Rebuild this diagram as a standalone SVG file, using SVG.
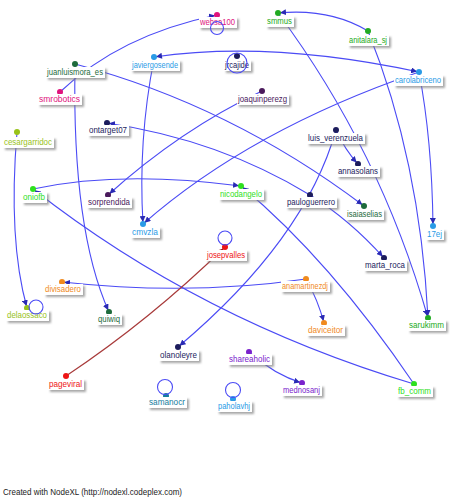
<svg xmlns="http://www.w3.org/2000/svg" width="450" height="501" viewBox="0 0 450 501">
<defs>
<style>
.e{fill:none;stroke:#4b4bf5;stroke-width:1.1}
.er{fill:none;stroke:#a83a3a;stroke-width:1.1}
.a{marker-end:url(#ar)}
.s{marker-start:url(#as)}
.ar{marker-end:url(#arr)}
.lb{fill:#fff;filter:url(#sh)}
text{font-family:"Liberation Sans",Arial,sans-serif;font-size:9.5px;text-anchor:middle}
.foot{font-size:9px;text-anchor:start;fill:#222}
.pink{fill:#e0147c}.grn{fill:#22aa22}.lgrn{fill:#2ee01e}.blue{fill:#2a9be6}.teal{fill:#157d9e}
.navy{fill:#1c1c5c}.purp{fill:#4a1a5c}.dgrn{fill:#1e6b3c}.yg{fill:#98c21a}.org{fill:#f08a1e}
.red{fill:#ee1414}.vio{fill:#7a22cc}
</style>
<filter id="sh" x="-20%" y="-40%" width="140%" height="180%">
<feDropShadow dx="2" dy="2" stdDeviation="1" flood-color="#808080" flood-opacity="0.7"/>
</filter>
<marker id="ar" markerUnits="userSpaceOnUse" markerWidth="10" markerHeight="6" refX="8" refY="3" orient="auto"><path d="M0,0 L6,3 L0,6 z" fill="#2a2ab4"/></marker>
<marker id="as" markerUnits="userSpaceOnUse" markerWidth="10" markerHeight="6" refX="-2" refY="3" orient="auto"><path d="M6,0 L0,3 L6,6 z" fill="#2a2ab4"/></marker>
<marker id="arr" markerUnits="userSpaceOnUse" markerWidth="10" markerHeight="6" refX="8" refY="3" orient="auto"><path d="M0,0 L6,3 L0,6 z" fill="#8a2020"/></marker>
</defs>
<rect width="450" height="501" fill="#fff"/>
<g id="connectors">
<path class="e a" d="M60,92 Q120,35 217,15"/>
<path class="e a" d="M75,64 Q230,105 364,206"/>
<path class="e a" d="M75,66 Q72,230 109,312"/>
<path class="e a s" d="M154,57 Q270,40 419,72"/>
<path class="e a" d="M154,59 Q138,140 143,224"/>
<path class="e a" d="M419,72 Q250,130 143,224"/>
<path class="e a" d="M419,72 Q432,140 433,226"/>
<path class="e a" d="M368,31 Q330,8 278,13"/>
<path class="e a" d="M368,31 Q420,160 428,318"/>
<path class="e a" d="M278,13 Q380,150 428,318"/>
<path class="e a" d="M336,130 Q345,150 358,164"/>
<path class="e a" d="M336,130 Q305,240 178,347"/>
<path class="e a" d="M310,195 Q220,140 107,123"/>
<path class="e a" d="M310,195 Q350,220 384,258"/>
<path class="e a" d="M262,91 Q180,130 108,195"/>
<path class="e a" d="M33,189 Q120,170 241,186"/>
<path class="e a" d="M414,384 Q200,320 33,189"/>
<path class="e a" d="M414,384 Q330,260 241,186"/>
<path class="e a" d="M17,132 Q8,240 27,308"/>
<path class="e a" d="M306,279 Q190,296 62,282"/>
<path class="e a" d="M306,279 Q318,300 324,323"/>
<path class="er ar" d="M66,376 Q150,320 225,247"/>
<path class="e a" d="M249,352 Q275,375 302,383"/>
</g>
<g id="websa100"><circle class="pink" cx="217" cy="15" r="3"/><rect class="lb" x="199" y="17" width="38" height="11"/><text class="pink" x="217.5" y="25" textLength="35" lengthAdjust="spacingAndGlyphs">websa100</text></g>
<g id="smmus"><circle class="grn" cx="278" cy="13" r="3"/><rect class="lb" x="266" y="16" width="28" height="11"/><text class="grn" x="279.5" y="24" textLength="25" lengthAdjust="spacingAndGlyphs">smmus</text></g>
<g id="anitalara_sj"><circle class="grn" cx="368" cy="31" r="3"/><rect class="lb" x="348" y="35" width="41" height="11"/><text class="grn" x="368" y="43" textLength="38" lengthAdjust="spacingAndGlyphs">anitalara_sj</text></g>
<g id="carolabriceno"><circle class="blue" cx="419" cy="72" r="3"/><rect class="lb" x="394" y="75" width="49" height="11"/><text class="blue" x="418" y="83" textLength="46" lengthAdjust="spacingAndGlyphs">carolabriceno</text></g>
<g id="javiergosende"><circle class="blue" cx="154" cy="57" r="3"/><rect class="lb" x="131" y="60" width="49" height="11"/><text class="blue" x="155" y="68" textLength="46" lengthAdjust="spacingAndGlyphs">javiergosende</text></g>
<g id="jrcajide"><circle class="navy" cx="237" cy="56" r="3"/><rect class="lb" x="224" y="60" width="27" height="11"/><text class="navy" x="237" y="68" textLength="24" lengthAdjust="spacingAndGlyphs">jrcajide</text></g>
<g id="joaquinperezg"><circle class="purp" cx="262" cy="91" r="3"/><rect class="lb" x="237" y="94" width="52" height="11"/><text class="purp" x="262.5" y="102" textLength="49" lengthAdjust="spacingAndGlyphs">joaquinperezg</text></g>
<g id="juanluismora_es"><circle class="dgrn" cx="75" cy="64" r="3"/><rect class="lb" x="46" y="67" width="59" height="11"/><text class="dgrn" x="75" y="75" textLength="56" lengthAdjust="spacingAndGlyphs">juanluismora_es</text></g>
<g id="smrobotics"><circle class="pink" cx="60" cy="92" r="3"/><rect class="lb" x="38" y="94" width="44" height="11"/><text class="pink" x="59.5" y="102" textLength="41" lengthAdjust="spacingAndGlyphs">smrobotics</text></g>
<g id="ontarget07"><circle class="navy" cx="107" cy="123" r="3"/><rect class="lb" x="88" y="125" width="41" height="11"/><text class="navy" x="108" y="133" textLength="38" lengthAdjust="spacingAndGlyphs">ontarget07</text></g>
<g id="cesargarridoc"><circle class="yg" cx="17" cy="132" r="3"/><rect class="lb" x="3" y="137" width="51" height="11"/><text class="yg" x="28" y="145" textLength="48" lengthAdjust="spacingAndGlyphs">cesargarridoc</text></g>
<g id="luis_verenzuela"><circle class="navy" cx="336" cy="130" r="3"/><rect class="lb" x="307" y="133" width="58" height="11"/><text class="navy" x="335.5" y="141" textLength="55" lengthAdjust="spacingAndGlyphs">luis_verenzuela</text></g>
<g id="annasolans"><circle class="navy" cx="358" cy="164" r="3"/><rect class="lb" x="337" y="166" width="43" height="11"/><text class="navy" x="358" y="174" textLength="40" lengthAdjust="spacingAndGlyphs">annasolans</text></g>
<g id="pauloguerrero"><circle class="navy" cx="310" cy="195" r="3"/><rect class="lb" x="286" y="197" width="51" height="11"/><text class="navy" x="311" y="205" textLength="48" lengthAdjust="spacingAndGlyphs">pauloguerrero</text></g>
<g id="isaiaselias"><circle class="dgrn" cx="364" cy="206" r="3"/><rect class="lb" x="346" y="209" width="38" height="11"/><text class="dgrn" x="364.5" y="217" textLength="35" lengthAdjust="spacingAndGlyphs">isaiaselias</text></g>
<g id="n17ej"><circle class="blue" cx="433" cy="226" r="3"/><rect class="lb" x="426" y="229" width="18" height="11"/><text class="blue" x="434.5" y="237" textLength="15" lengthAdjust="spacingAndGlyphs">17ej</text></g>
<g id="sorprendida"><circle class="purp" cx="108" cy="195" r="3"/><rect class="lb" x="87" y="197" width="45" height="11"/><text class="purp" x="109" y="205" textLength="42" lengthAdjust="spacingAndGlyphs">sorprendida</text></g>
<g id="oniofb"><circle class="lgrn" cx="33" cy="189" r="3"/><rect class="lb" x="22" y="192" width="25" height="11"/><text class="lgrn" x="34" y="200" textLength="22" lengthAdjust="spacingAndGlyphs">oniofb</text></g>
<g id="cmvzla"><circle class="blue" cx="143" cy="224" r="3"/><rect class="lb" x="131" y="227" width="29" height="11"/><text class="blue" x="145" y="235" textLength="26" lengthAdjust="spacingAndGlyphs">cmvzla</text></g>
<g id="nicodangelo"><circle class="lgrn" cx="241" cy="186" r="3"/><rect class="lb" x="219" y="189" width="45" height="11"/><text class="lgrn" x="241" y="197" textLength="42" lengthAdjust="spacingAndGlyphs">nicodangelo</text></g>
<g id="josepvalles"><circle class="red" cx="225" cy="247" r="3"/><rect class="lb" x="206" y="250" width="41" height="11"/><text class="red" x="226" y="258" textLength="38" lengthAdjust="spacingAndGlyphs">josepvalles</text></g>
<g id="marta_roca"><circle class="navy" cx="384" cy="258" r="3"/><rect class="lb" x="364" y="260" width="43" height="11"/><text class="navy" x="385" y="268" textLength="40" lengthAdjust="spacingAndGlyphs">marta_roca</text></g>
<g id="anamartinezdj"><circle class="org" cx="306" cy="279" r="3"/><rect class="lb" x="281" y="281" width="49" height="11"/><text class="org" x="305" y="289" textLength="46" lengthAdjust="spacingAndGlyphs">anamartinezdj</text></g>
<g id="daviceitor"><circle class="org" cx="324" cy="323" r="3"/><rect class="lb" x="307" y="325" width="38" height="11"/><text class="org" x="325.5" y="333" textLength="35" lengthAdjust="spacingAndGlyphs">daviceitor</text></g>
<g id="sarukimm"><circle class="grn" cx="428" cy="318" r="3"/><rect class="lb" x="408" y="320" width="38" height="11"/><text class="grn" x="426.5" y="328" textLength="35" lengthAdjust="spacingAndGlyphs">sarukimm</text></g>
<g id="divisadero"><circle class="org" cx="62" cy="282" r="3"/><rect class="lb" x="44" y="284" width="39" height="11"/><text class="org" x="63" y="292" textLength="36" lengthAdjust="spacingAndGlyphs">divisadero</text></g>
<g id="delaossaco"><circle class="yg" cx="27" cy="308" r="3"/><rect class="lb" x="6" y="310" width="43" height="11"/><text class="yg" x="27" y="318" textLength="40" lengthAdjust="spacingAndGlyphs">delaossaco</text></g>
<g id="quiwiq"><circle class="dgrn" cx="109" cy="312" r="3"/><rect class="lb" x="97" y="314" width="25" height="11"/><text class="dgrn" x="109" y="322" textLength="22" lengthAdjust="spacingAndGlyphs">quiwiq</text></g>
<g id="olanoleyre"><circle class="navy" cx="178" cy="347" r="3"/><rect class="lb" x="159" y="350" width="40" height="11"/><text class="navy" x="178.5" y="358" textLength="37" lengthAdjust="spacingAndGlyphs">olanoleyre</text></g>
<g id="shareaholic"><circle class="vio" cx="249" cy="352" r="3"/><rect class="lb" x="228" y="354" width="44" height="11"/><text class="vio" x="249.5" y="362" textLength="41" lengthAdjust="spacingAndGlyphs">shareaholic</text></g>
<g id="mednosanj"><circle class="vio" cx="302" cy="383" r="3"/><rect class="lb" x="282" y="385" width="40" height="11"/><text class="vio" x="301.5" y="393" textLength="37" lengthAdjust="spacingAndGlyphs">mednosanj</text></g>
<g id="fb_comm"><circle class="lgrn" cx="414" cy="384" r="3"/><rect class="lb" x="397" y="386" width="36" height="11"/><text class="lgrn" x="414.5" y="394" textLength="33" lengthAdjust="spacingAndGlyphs">fb_comm</text></g>
<g id="pageviral"><circle class="red" cx="66" cy="376" r="3"/><rect class="lb" x="48" y="379" width="36" height="11"/><text class="red" x="65.5" y="387" textLength="33" lengthAdjust="spacingAndGlyphs">pageviral</text></g>
<g id="samanocr"><circle class="teal" cx="166" cy="396" r="3"/><rect class="lb" x="148" y="397" width="39" height="11"/><text class="teal" x="167" y="405" textLength="36" lengthAdjust="spacingAndGlyphs">samanocr</text></g>
<g id="paholavhj"><circle class="blue" cx="233" cy="399" r="3"/><rect class="lb" x="217" y="401" width="35" height="11"/><text class="blue" x="234" y="409" textLength="32" lengthAdjust="spacingAndGlyphs">paholavhj</text></g>
<g id="self-loops">
<circle class="e" cx="217" cy="28" r="6.5"/>
<circle class="e" cx="237" cy="63" r="10"/>
<circle class="e" cx="225" cy="238" r="7"/>
<circle class="e" cx="36" cy="307" r="7"/>
<circle class="e" cx="165" cy="387" r="7.5"/>
<circle class="e" cx="233" cy="390" r="7.5"/>
</g>
<text class="foot" x="3" y="495" textLength="179" lengthAdjust="spacingAndGlyphs">Created with NodeXL (http://nodexl.codeplex.com)</text>
</svg>
